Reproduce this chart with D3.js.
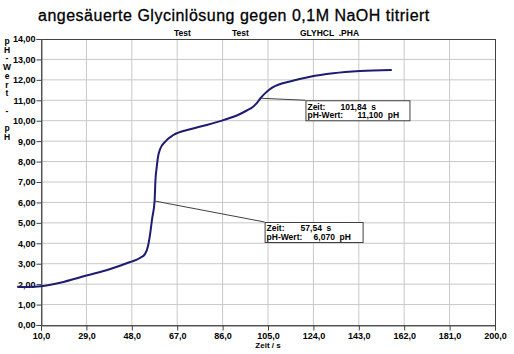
<!DOCTYPE html>
<html>
<head>
<meta charset="utf-8">
<script src="https://cdn.jsdelivr.net/npm/d3@7"></script>
<style>
  body { margin: 0; background: #fff; }
  text { font-family: "Liberation Sans", Arial, sans-serif; }
</style>
</head>
<body>
<svg id="chart" width="514" height="354"></svg>
<script>
// titration curve
var zeit = [0, 5, 10, 18, 29, 39, 47, 51.4, 53.5, 54.8, 55.6, 56.5, 57.54, 57.9, 58.4, 59.0, 59.8,
            61.9, 65.4, 72.4, 79.3, 86.3, 93.3, 96.1, 98.5, 100.3, 101.84, 103.0, 104.5, 106.0, 107.5,
            109.3, 114.2, 122.6, 132.3, 143.5, 156.8]
var phWert = [1.87, 1.86, 1.9, 2.07, 2.42, 2.74, 3.07, 3.28, 3.47, 3.87, 4.4, 5.2, 6.07, 7.1, 7.7, 8.25, 8.6,
              8.97, 9.3, 9.58, 9.79, 10.03, 10.33, 10.5, 10.66, 10.86, 11.1, 11.25, 11.42, 11.56, 11.67,
              11.76, 11.92, 12.15, 12.32, 12.43, 12.48]

var xTicks = [10, 29, 48, 67, 86, 105, 124, 143, 162, 181, 200]
var yTicks = [0, 1, 2, 3, 4, 5, 6, 7, 8, 9, 10, 11, 12, 13, 14]

// cursor readouts
var marker = [
  {zeit: 57.54, zeitTxt: "57,54 s", ph: 6.070, phTxt: "6,070 pH", dx: 110, dy: 21},
  {zeit: 101.84, zeitTxt: "101,84 s", ph: 11.100, phTxt: "11,100 pH", dx: 45, dy: 2}
]

var headerLabels = [["Test", 174], ["Test", 232], ["GLYHCL  .PHA", 300]]
var yLabel = ["p", "H", "-", "W", "e", "r", "t", "", "-", "", "p", "H"]

var svg = d3.select("#chart"),
    margin = {top: 39, right: 19, bottom: 29, left: 41},
    width = +svg.attr("width") - margin.left - margin.right,
    height = +svg.attr("height") - margin.top - margin.bottom;

var x = d3.scaleLinear().domain([10, 200]).range([margin.left, margin.left + width])
var y = d3.scaleLinear().domain([0, 14]).range([margin.top + height, margin.top])

var fmt = function(d, n) { return d.toFixed(n).replace(".", ",") }

// title
svg.append("text")
  .attr("x", 38).attr("y", 21)
  .style("font-size", "16px")
  .style("letter-spacing", "0.5px")
  .style("stroke", "#000").style("stroke-width", "0.3px")
  .text("angesäuerte Glycinlösung gegen 0,1M NaOH titriert")

svg.selectAll(".head")
  .data(headerLabels)
  .join("text")
    .attr("x", d => d[1]).attr("y", 36)
    .style("font-size", "8.5px").style("font-weight", "bold")
    .attr("xml:space", "preserve")
    .text(d => d[0])

// grid
svg.append("g")
  .selectAll("line")
  .data(xTicks.slice(1, -1))
  .join("line")
    .attr("x1", d => x(d)).attr("x2", d => x(d))
    .attr("y1", margin.top).attr("y2", margin.top + height)
    .attr("stroke", "#c8c8c8")

svg.append("g")
  .selectAll("line")
  .data(yTicks.slice(1, -1))
  .join("line")
    .attr("x1", margin.left).attr("x2", margin.left + width)
    .attr("y1", d => y(d)).attr("y2", d => y(d))
    .attr("stroke", "#c8c8c8")

// frame
svg.append("rect")
  .attr("x", margin.left + 0.5).attr("y", margin.top + 0.5)
  .attr("width", width).attr("height", height)
  .attr("fill", "none").attr("stroke", "#404040")

// axes
var xAxis = svg.append("g")
  .attr("transform", "translate(0," + (margin.top + height + 0.5) + ")")
  .call(d3.axisBottom(x).tickValues(xTicks).tickSize(5).tickPadding(2).tickFormat(d => fmt(d, 1)))
var yAxis = svg.append("g")
  .attr("transform", "translate(" + (margin.left + 0.5) + ",0)")
  .call(d3.axisLeft(y).tickValues(yTicks).tickSize(5).tickPadding(1).tickFormat(d => fmt(d, 2)))

svg.selectAll(".domain").attr("stroke", "#606060")
svg.selectAll(".tick line").attr("stroke", "#404040")
svg.selectAll(".tick text")
  .attr("fill", "#000")
  .style("font-size", "9px").style("font-weight", "bold")
  .style("font-family", "'Liberation Sans', Arial, sans-serif")

svg.append("text")
  .attr("x", margin.left + width / 2).attr("y", 348)
  .attr("text-anchor", "middle")
  .style("font-size", "8px").style("font-weight", "bold")
  .text("Zeit / s")

svg.append("g")
  .selectAll("text")
  .data(yLabel)
  .join("text")
    .attr("x", 7).attr("y", (d, i) => 44 + i * 8.7)
    .attr("text-anchor", "middle")
    .style("font-size", "8.5px").style("font-weight", "bold")
    .text(d => d)

// curve
var line = d3.line()
  .x(d => x(d[0]))
  .y(d => y(d[1]))
  .curve(d3.curveMonotoneX)

svg.append("path")
  .datum(d3.zip(zeit, phWert))
  .attr("fill", "none")
  .attr("stroke", "#1c1c72")
  .attr("stroke-width", 2)
  .attr("d", line)

// readout boxes
var box = svg.append("g")
  .selectAll("g")
  .data(marker)
  .join("g")

box.append("line")
  .attr("x1", d => x(d.zeit)).attr("y1", d => y(d.ph))
  .attr("x2", d => x(d.zeit) + d.dx).attr("y2", d => y(d.ph) + d.dy)
  .attr("stroke", "#404040")

box.append("rect")
  .attr("x", d => x(d.zeit) + d.dx + 0.5).attr("y", d => y(d.ph) + d.dy + 0.5)
  .attr("width", (d, i) => i ? 104 : 98).attr("height", 20)
  .attr("fill", "#fff").attr("stroke", "#404040")

box.append("text")
  .attr("x", d => x(d.zeit) + d.dx + 2).attr("y", d => y(d.ph) + d.dy + 9.5)
  .style("font-size", "8.5px").style("font-weight", "bold")
  .text("Zeit:")
box.append("text")
  .attr("x", (d, i) => x(d.zeit) + d.dx + (i ? 35 : 36)).attr("y", d => y(d.ph) + d.dy + 9.5)
  .style("font-size", "8.5px").style("font-weight", "bold")
  .text(d => d.zeitTxt.replace(" ", "  ")).attr("xml:space", "preserve")
box.append("text")
  .attr("x", d => x(d.zeit) + d.dx + 2).attr("y", d => y(d.ph) + d.dy + 18)
  .style("font-size", "8.5px").style("font-weight", "bold")
  .text("pH-Wert:")
box.append("text")
  .attr("x", (d, i) => x(d.zeit) + d.dx + (i ? 52 : 49)).attr("y", d => y(d.ph) + d.dy + 18)
  .style("font-size", "8.5px").style("font-weight", "bold")
  .text(d => d.phTxt.replace(" ", "  ")).attr("xml:space", "preserve")
</script>
</body>
</html>
